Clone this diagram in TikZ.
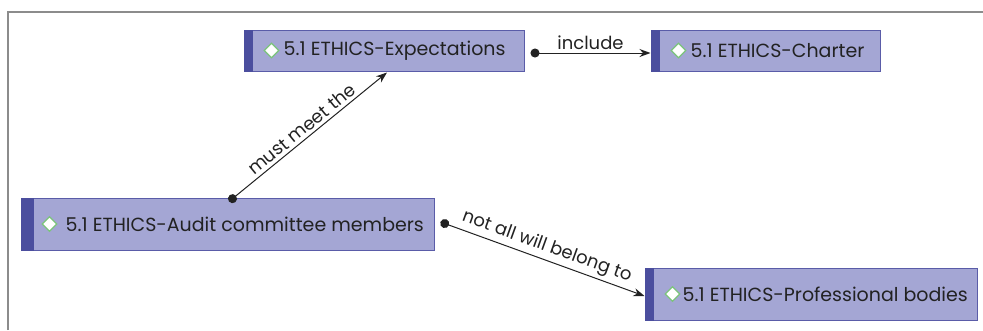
\documentclass[tikz,border=0pt]{standalone}
\usepackage{fontspec}
\setmainfont{Poppins}
\usetikzlibrary{arrows.meta,shapes.geometric}
\definecolor{boxfill}{HTML}{A4A6D4}
\definecolor{boxline}{HTML}{5A5CA8}
\definecolor{barcol}{HTML}{4B4E9E}
\definecolor{framecol}{HTML}{8C8C8C}
\definecolor{inkcol}{HTML}{222222}
\definecolor{gemline}{HTML}{7CC47C}
\tikzset{
  topic/.style={draw=boxline, line width=1pt, fill=boxfill, rectangle, inner sep=0pt},
  topictext/.style={anchor=west, inner sep=0pt, text=inkcol, font=\fontsize{19}{22}\selectfont},
  gem/.style={diamond, draw=gemline, fill=white, line width=1.3pt, inner sep=0pt, minimum width=15pt, minimum height=15pt},
  link/.style={line width=1pt, inkcol, {Circle[length=9pt]}-{Stealth[length=11pt,width=8pt]}},
  linklabel/.style={text=inkcol, font=\fontsize{18}{21}\selectfont, inner sep=3pt}
}
\begin{document}
\begin{tikzpicture}[x=1pt,y=-1pt]
\useasboundingbox (0,0) rectangle (983,330);
% frame
\draw[framecol, line width=2pt] (8,330) -- (8,12) -- (983,12);

% topic boxes
\node[topic, minimum width=280pt, minimum height=41pt] (exp) at (384,50.5) {};
\node[topic, minimum width=229pt, minimum height=41pt] (cha) at (765.5,50.5) {};
\node[topic, minimum width=413pt, minimum height=52pt] (aud) at (227.5,224) {};
\node[topic, minimum width=332pt, minimum height=52pt] (pro) at (811,294) {};

% side bars
\fill[barcol] (exp.north west) rectangle ([xshift=9pt]exp.south west);
\fill[barcol] (cha.north west) rectangle ([xshift=9pt]cha.south west);
\fill[barcol] (aud.north west) rectangle ([xshift=13pt]aud.south west);
\fill[barcol] (pro.north west) rectangle ([xshift=9pt]pro.south west);

% markers
\node[gem] (exp-g) at ([xshift=28pt]exp.west) {};
\node[gem] (cha-g) at ([xshift=28pt]cha.west) {};
\node[gem] (aud-g) at ([xshift=29pt]aud.west) {};
\node[gem] (pro-g) at ([xshift=28pt]pro.west) {};

% titles
\node[topictext] (exp-t) at ([xshift=40pt]exp.west) {5.1 ETHICS-Expectations};
\node[topictext] (cha-t) at ([xshift=40pt]cha.west) {5.1 ETHICS-Charter};
\node[topictext] (aud-t) at ([xshift=45pt]aud.west) {5.1 ETHICS-Audit committee members};
\node[topictext] (pro-t) at ([xshift=38pt]pro.west) {5.1 ETHICS-Professional bodies};

% connectors
\coordinate (exp-s) at ([xshift=6pt,yshift=-2.5pt]exp.east);
\draw[link] (exp-s) -- node[linklabel, above] {include} (exp-s -| cha.west);
\coordinate (aud-n) at ([xshift=1.5pt,yshift=-4pt]aud.north);
\coordinate (exp-n) at ([xshift=3pt,yshift=-1pt]exp.south);
\draw[link] (aud-n) -- node[linklabel, sloped, above] {must meet the} (exp-n);
\coordinate (aud-e) at ([xshift=6pt,yshift=2pt]aud.east);
\coordinate (pro-w) at ([yshift=-2pt]pro.west);
\draw[link] (aud-e) -- node[linklabel, sloped, above] {not all will belong to} (pro-w);
\end{tikzpicture}
\end{document}
